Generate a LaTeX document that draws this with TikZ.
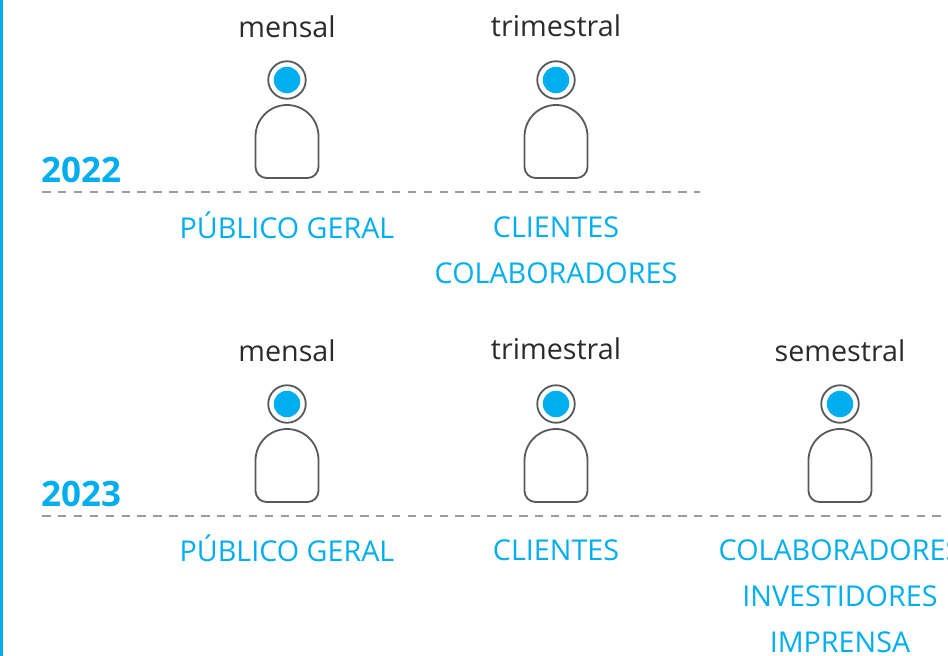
\documentclass[tikz,border=0pt]{standalone}
\usepackage{fontspec}
\setmainfont{Open Sans}
\definecolor{brand}{HTML}{00AEEF}
\definecolor{ink}{HTML}{2B2B2D}
\definecolor{outline}{HTML}{58595B}
\definecolor{rule}{HTML}{9C9C9E}
\tikzset{
  x=1pt,y=-1pt,
  label/.style={anchor=base,inner sep=0pt,text=ink,font=\fontsize{28.7}{30}\selectfont},
  audience/.style={anchor=base,inner sep=0pt,text=brand,font=\fontsize{28.7}{30}\selectfont},
  yearlabel/.style={anchor=base west,inner sep=0pt,text=brand,font=\fontsize{35}{36}\selectfont\bfseries},
  timeline/.style={draw=rule,line width=2pt,dash pattern=on 8.5pt off 7.4pt},
  headring/.style={circle,draw=outline,line width=1.8pt,fill=white,minimum size=37.5pt,inner sep=0pt},
  headdot/.style={circle,fill=brand,minimum size=26.5pt,inner sep=0pt},
  bodyshape/.style={draw=outline,line width=1.8pt,fill=white,line join=round},
  person/.pic={
    \path[bodyshape] (-31.5,56.5) arc[start angle=180,end angle=360,radius=31.5] -- (31.5,87) arc[start angle=0,end angle=90,radius=11] -- (-20.5,98) arc[start angle=90,end angle=180,radius=11] -- cycle;
    \node[headring] at (0,0) {};
    \node[headdot] at (0,0) {};
  }
}
\begin{document}
\begin{tikzpicture}
\useasboundingbox (0,0) rectangle (948,656);
\clip (0,0) rectangle (948,656);
\fill[brand] (0,0) rectangle (3,656);

\coordinate (lineAstart) at (42,192);
\coordinate (lineAend) at (700,192);
\coordinate (lineBstart) at (42,516);
\coordinate (lineBend) at (948,516);
\draw[timeline] (lineAstart) -- (lineAend);
\draw[timeline] (lineBstart) -- (lineBend);

\node[yearlabel] (yearA) at (41,182) {2022};
\node[yearlabel] (yearB) at (41,506) {2023};

\pic at (287,80) {person};
\pic at (556,80) {person};
\pic at (287,404) {person};
\pic at (556,404) {person};
\pic at (840,404) {person};

\node[label] (freqA1) at (287,37) {mensal};
\node[label] (freqA2) at (556,36) {trimestral};
\node[label] (freqB1) at (287,361) {mensal};
\node[label] (freqB2) at (556,359) {trimestral};
\node[label] (freqB3) at (840,361) {semestral};

\node[audience] (audA1) at (287,238) {PÚBLICO GERAL};
\node[audience] (audA2) at (556,237) {CLIENTES};
\node[audience] (audA3) at (556,283) {COLABORADORES};
\node[audience] (audB1) at (287,561) {PÚBLICO GERAL};
\node[audience] (audB2) at (556,560) {CLIENTES};
\node[audience] (audB3) at (840,560) {COLABORADORES};
\node[audience] (audB4) at (840,606) {INVESTIDORES};
\node[audience] (audB5) at (840,652) {IMPRENSA};
\end{tikzpicture}
\end{document}
